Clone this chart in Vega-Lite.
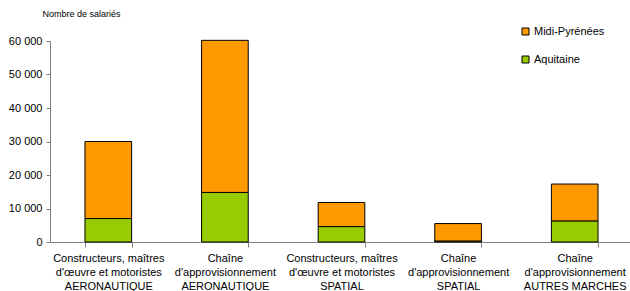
{
  "$schema": "https://vega.github.io/schema/vega-lite/v6.json",
  "width": 583,
  "height": 201,
  "autosize": {"type": "none"},
  "padding": {"left": 50, "top": 41, "right": 0, "bottom": 49},
  "config": {
    "view": {"stroke": null},
    "font": "Liberation Sans",
    "axis": {"labelFont": "Liberation Sans", "titleFont": "Liberation Sans", "labelColor": "#000", "domainColor": "#808080", "tickColor": "#808080", "grid": false}
  },
  "data": {
    "values": [
      {"cat": "Constructeurs, maîtres\nd'œuvre et motoristes\nAERONAUTIQUE", "region": "Aquitaine", "v": 7000},
      {"cat": "Constructeurs, maîtres\nd'œuvre et motoristes\nAERONAUTIQUE", "region": "Midi-Pyrénées", "v": 23000},
      {"cat": "Chaîne\nd'approvisionnement\nAERONAUTIQUE", "region": "Aquitaine", "v": 14800},
      {"cat": "Chaîne\nd'approvisionnement\nAERONAUTIQUE", "region": "Midi-Pyrénées", "v": 45400},
      {"cat": "Constructeurs, maîtres\nd'œuvre et motoristes\nSPATIAL", "region": "Aquitaine", "v": 4600},
      {"cat": "Constructeurs, maîtres\nd'œuvre et motoristes\nSPATIAL", "region": "Midi-Pyrénées", "v": 7200},
      {"cat": "Chaîne\nd'approvisionnement\nSPATIAL", "region": "Aquitaine", "v": 300},
      {"cat": "Chaîne\nd'approvisionnement\nSPATIAL", "region": "Midi-Pyrénées", "v": 5200},
      {"cat": "Chaîne\nd'approvisionnement\nAUTRES MARCHES", "region": "Aquitaine", "v": 6300},
      {"cat": "Chaîne\nd'approvisionnement\nAUTRES MARCHES", "region": "Midi-Pyrénées", "v": 11000}
    ]
  },
  "mark": {"type": "bar", "stroke": "#000", "strokeWidth": 1},
  "encoding": {
    "x": {
      "field": "cat", "type": "nominal", "sort": null,
      "scale": {"paddingInner": 0.6, "paddingOuter": 0.3},
      "axis": {
        "title": null, "labelAngle": 0, "labelExpr": "split(datum.label, '\\n')",
        "labelFontSize": 11, "labelLineHeight": 14, "labelPadding": 5,
        "tickBand": "extent", "tickSize": 5, "labelLimit": 200
      }
    },
    "y": {
      "field": "v", "type": "quantitative", "stack": "zero",
      "scale": {"domain": [0, 60000], "nice": false},
      "axis": {
        "values": [0, 10000, 20000, 30000, 40000, 50000, 60000],
        "labelExpr": "replace(format(datum.value, ',d'), ',', ' ')",
        "labelFontSize": 11, "tickSize": 4, "labelPadding": 4,
        "title": "Nombre de salariés", "titleAngle": 0, "titleAlign": "left",
        "titleBaseline": "alphabetic", "titleX": -8, "titleY": -25,
        "titleFontSize": 9, "titleFontWeight": "normal", "titleColor": "#000"
      }
    },
    "order": {"field": "region", "sort": "ascending"},
    "color": {
      "field": "region", "type": "nominal",
      "scale": {"domain": ["Aquitaine", "Midi-Pyrénées"], "range": ["#99CC00", "#FF9900"]},
      "legend": {
        "title": null, "orient": "none", "legendX": 470, "legendY": -15,
        "values": ["Midi-Pyrénées", "Aquitaine"],
        "symbolType": "square", "symbolSize": 49, "symbolStrokeColor": "#000", "symbolStrokeWidth": 1,
        "labelFontSize": 11, "labelColor": "#000", "rowPadding": 16, "labelOffset": 3
      }
    }
  }
}
